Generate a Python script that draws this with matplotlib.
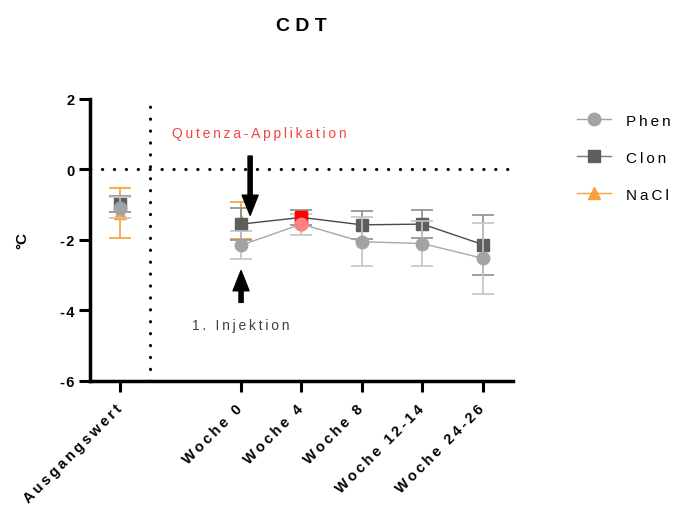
import numpy as np
import matplotlib.pyplot as plt
import matplotlib.transforms as mtransforms
from matplotlib.lines import Line2D

plt.rcParams['font.family'] = ['Liberation Sans', 'DejaVu Sans']

# data: baseline + follow-up weeks (mean, SD) in °C
labels = ['Ausgangswert', 'Woche 0', 'Woche 4', 'Woche 8', 'Woche 12-14', 'Woche 24-26']
positions = [0, 2, 3, 4, 5, 6]

phen_mean = [-1.08, -2.15, -1.55, -2.05, -2.10, -2.52]
phen_sd = [0.30, 0.40, 0.30, 0.70, 0.65, 1.00]
clon_mean = [-0.98, -1.55, -1.36, -1.57, -1.55, -2.13]
clon_sd = [0.23, 0.45, 0.22, 0.40, 0.40, 0.85]
nacl_mean = [-1.23, -1.45]
nacl_sd = [0.70, 0.52]
nacl_pos = [0, 2]

highlight = 2  # index of the marked time point (Woche 4)

c_phen = '#A3A3A7'
c_clon = '#5E5E5E'
c_nacl = '#F7A136'


def spaced(s):
    # wide letter spacing: thin space between letters, wider gap for blanks
    words = ['\u2009'.join(w) for w in s.split(' ')]
    return '\u2009 \u2009'.join(words)


fig = plt.figure(figsize=(6.75, 5.1), dpi=100)
ax = fig.add_axes([0.1333, 0.251, 0.6267, 0.553])

# NaCl (bottom layer)
ax.errorbar(nacl_pos, nacl_mean, yerr=nacl_sd, fmt='^', ms=8, color=c_nacl,
            ecolor=c_nacl, elinewidth=1.2, capsize=8, capthick=1.2, zorder=2)

# Clon
ax.errorbar(positions, clon_mean, yerr=clon_sd, fmt='none', ecolor='#8E8E8E',
            elinewidth=1.2, capsize=8, capthick=1.2, zorder=3)
ax.plot(positions[1:], clon_mean[1:], '-', color='#4A4A4A', lw=1.0, zorder=3)
ax.plot(positions, clon_mean, 's', ms=8.5, color=c_clon, zorder=4)

# Phen (top layer)
ax.errorbar(positions, phen_mean, yerr=phen_sd, fmt='none', ecolor='#C4C4C4',
            elinewidth=1.2, capsize=8, capthick=1.2, zorder=5)
ax.plot(positions[1:], phen_mean[1:], '-', color='#A8A8A8', lw=1.0, zorder=5)
ax.plot(positions, phen_mean, 'o', ms=9, color=c_phen, zorder=6)

# highlighted time point
ax.plot(positions[highlight], clon_mean[highlight], 's', ms=8.5, color='#FF0000', zorder=7)
ax.plot(positions[highlight], phen_mean[highlight], 'o', ms=9, color='#FF8080', zorder=8)

# reference lines
ax.axhline(0, color='black', lw=2.2, ls=(0, (0.1, 3.8)), dash_capstyle='round', zorder=1)
ax.axvline(0.5, color='black', lw=2.2, ls=(0, (0.1, 3.8)), dash_capstyle='round', zorder=1)

ax.set_xlim(-0.5, 6.5)
ax.set_ylim(-6, 2)
ax.set_yticks([2, 0, -2, -4, -6])
ax.set_yticklabels(['2', '0', '-\u200a2', '-\u200a4', '-\u200a6'], fontsize=10.5,
                   fontweight='bold')
ax.set_xticks(positions)
ax.set_xticklabels([spaced(l) for l in labels],
                   rotation=45, ha='right', rotation_mode='anchor',
                   fontsize=10.5, fontweight='bold')
ax.tick_params(axis='both', direction='out', length=8, width=2.2, pad=3)
ax.tick_params(axis='x', pad=5)

# nudge the slanted labels a little to the left
shift = mtransforms.ScaledTranslation(-4.0 / 72, -1.5 / 72, fig.dpi_scale_trans)
for lbl in ax.get_xticklabels():
    lbl.set_transform(lbl.get_transform() + shift)

for side in ['top', 'right']:
    ax.spines[side].set_visible(False)
for side in ['left', 'bottom']:
    ax.spines[side].set_linewidth(2.5)

ax.set_ylabel('°C', fontsize=11, fontweight='bold', labelpad=22)
fig.text(0.446, 0.948, 'C D T', fontsize=14,
         fontweight='bold', ha='center', va='center')

# annotations
ax.text(2.30, 1.04, spaced('Qutenza-Applikation'), color='#F04545', fontsize=10,
        ha='center', va='center')
ax.text(2.0, -4.4, spaced('1. Injektion'),
        color='#404040', fontsize=10, ha='center', va='center')
arrow = dict(arrowstyle='simple,head_width=1.15,head_length=1.45,tail_width=0.3',
             color='black', shrinkA=0, shrinkB=0, mutation_scale=10)
ax.annotate('', xy=(2.15, -1.3), xytext=(2.15, 0.38), arrowprops=arrow)
ax.annotate('', xy=(2.0, -2.87), xytext=(2.0, -3.77), arrowprops=arrow)

# legend
handles = [
    Line2D([], [], color=c_phen, marker='o', ms=9, lw=1),
    Line2D([], [], color='#7A7A7A', marker='s', ms=9, lw=1,
           markerfacecolor=c_clon, markeredgecolor=c_clon),
    Line2D([], [], color=c_nacl, marker='^', ms=9, lw=1),
]
fig.legend(handles, [spaced('Phen'), spaced('Clon'), spaced('NaCl')],
           loc='upper left', bbox_to_anchor=(0.835, 0.802), frameon=False,
           fontsize=11, handlelength=2.2, labelspacing=1.5, handletextpad=1.0)

fig.savefig('out.png', dpi=100)
